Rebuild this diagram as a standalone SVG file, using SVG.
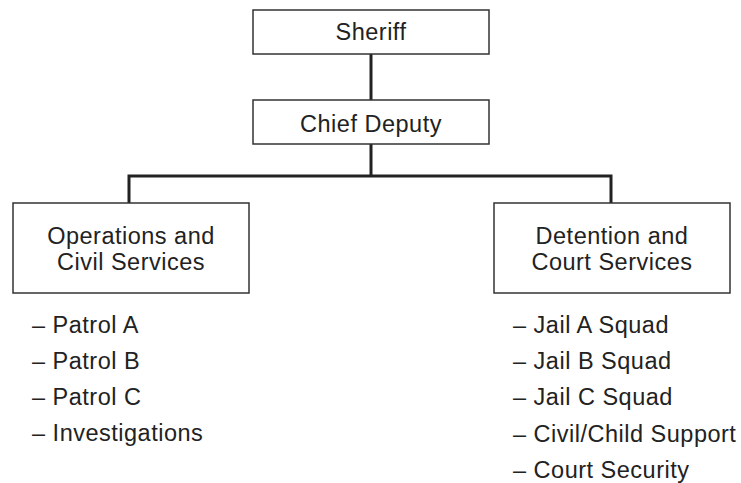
<svg xmlns="http://www.w3.org/2000/svg" width="741" height="483" viewBox="0 0 741 483">
<style>
.box{fill:#fff;stroke:#333;stroke-width:1.5}
.t{font-family:"Liberation Sans",Arial,sans-serif;font-size:23.5px;letter-spacing:0.5px;fill:#222}
.c{text-anchor:middle}
.conn{fill:none;stroke:#222;stroke-width:3}
</style>
<rect width="741" height="483" fill="#fff"/>
<g id="connectors">
<line class="conn" x1="371" y1="54" x2="371" y2="100"/>
<path class="conn" d="M371 144 V176 M129 203 V176 H611 V203"/>
</g>
<g id="sheriff">
<rect class="box" x="253" y="10" width="236" height="44"/>
<text class="t c" x="371" y="40">Sheriff</text>
</g>
<g id="chief-deputy">
<rect class="box" x="253" y="100" width="236" height="44"/>
<text class="t c" x="371" y="132">Chief Deputy</text>
</g>
<g id="operations">
<rect class="box" x="13" y="203" width="236" height="90"/>
<text class="t c" x="131" y="244">Operations and</text>
<text class="t c" x="131" y="270">Civil Services</text>
</g>
<g id="detention">
<rect class="box" x="494" y="203" width="236" height="90"/>
<text class="t c" x="612" y="244">Detention and</text>
<text class="t c" x="612" y="270">Court Services</text>
</g>
<g id="operations-list">
<text class="t" x="32" y="333">– Patrol A</text>
<text class="t" x="32" y="369">– Patrol B</text>
<text class="t" x="32" y="405">– Patrol C</text>
<text class="t" x="32" y="441">– Investigations</text>
</g>
<g id="detention-list">
<text class="t" x="513" y="333">– Jail A Squad</text>
<text class="t" x="513" y="369">– Jail B Squad</text>
<text class="t" x="513" y="405">– Jail C Squad</text>
<text class="t" x="513" y="442">– Civil/Child Support</text>
<text class="t" x="513" y="478">– Court Security</text>
</g>
</svg>
